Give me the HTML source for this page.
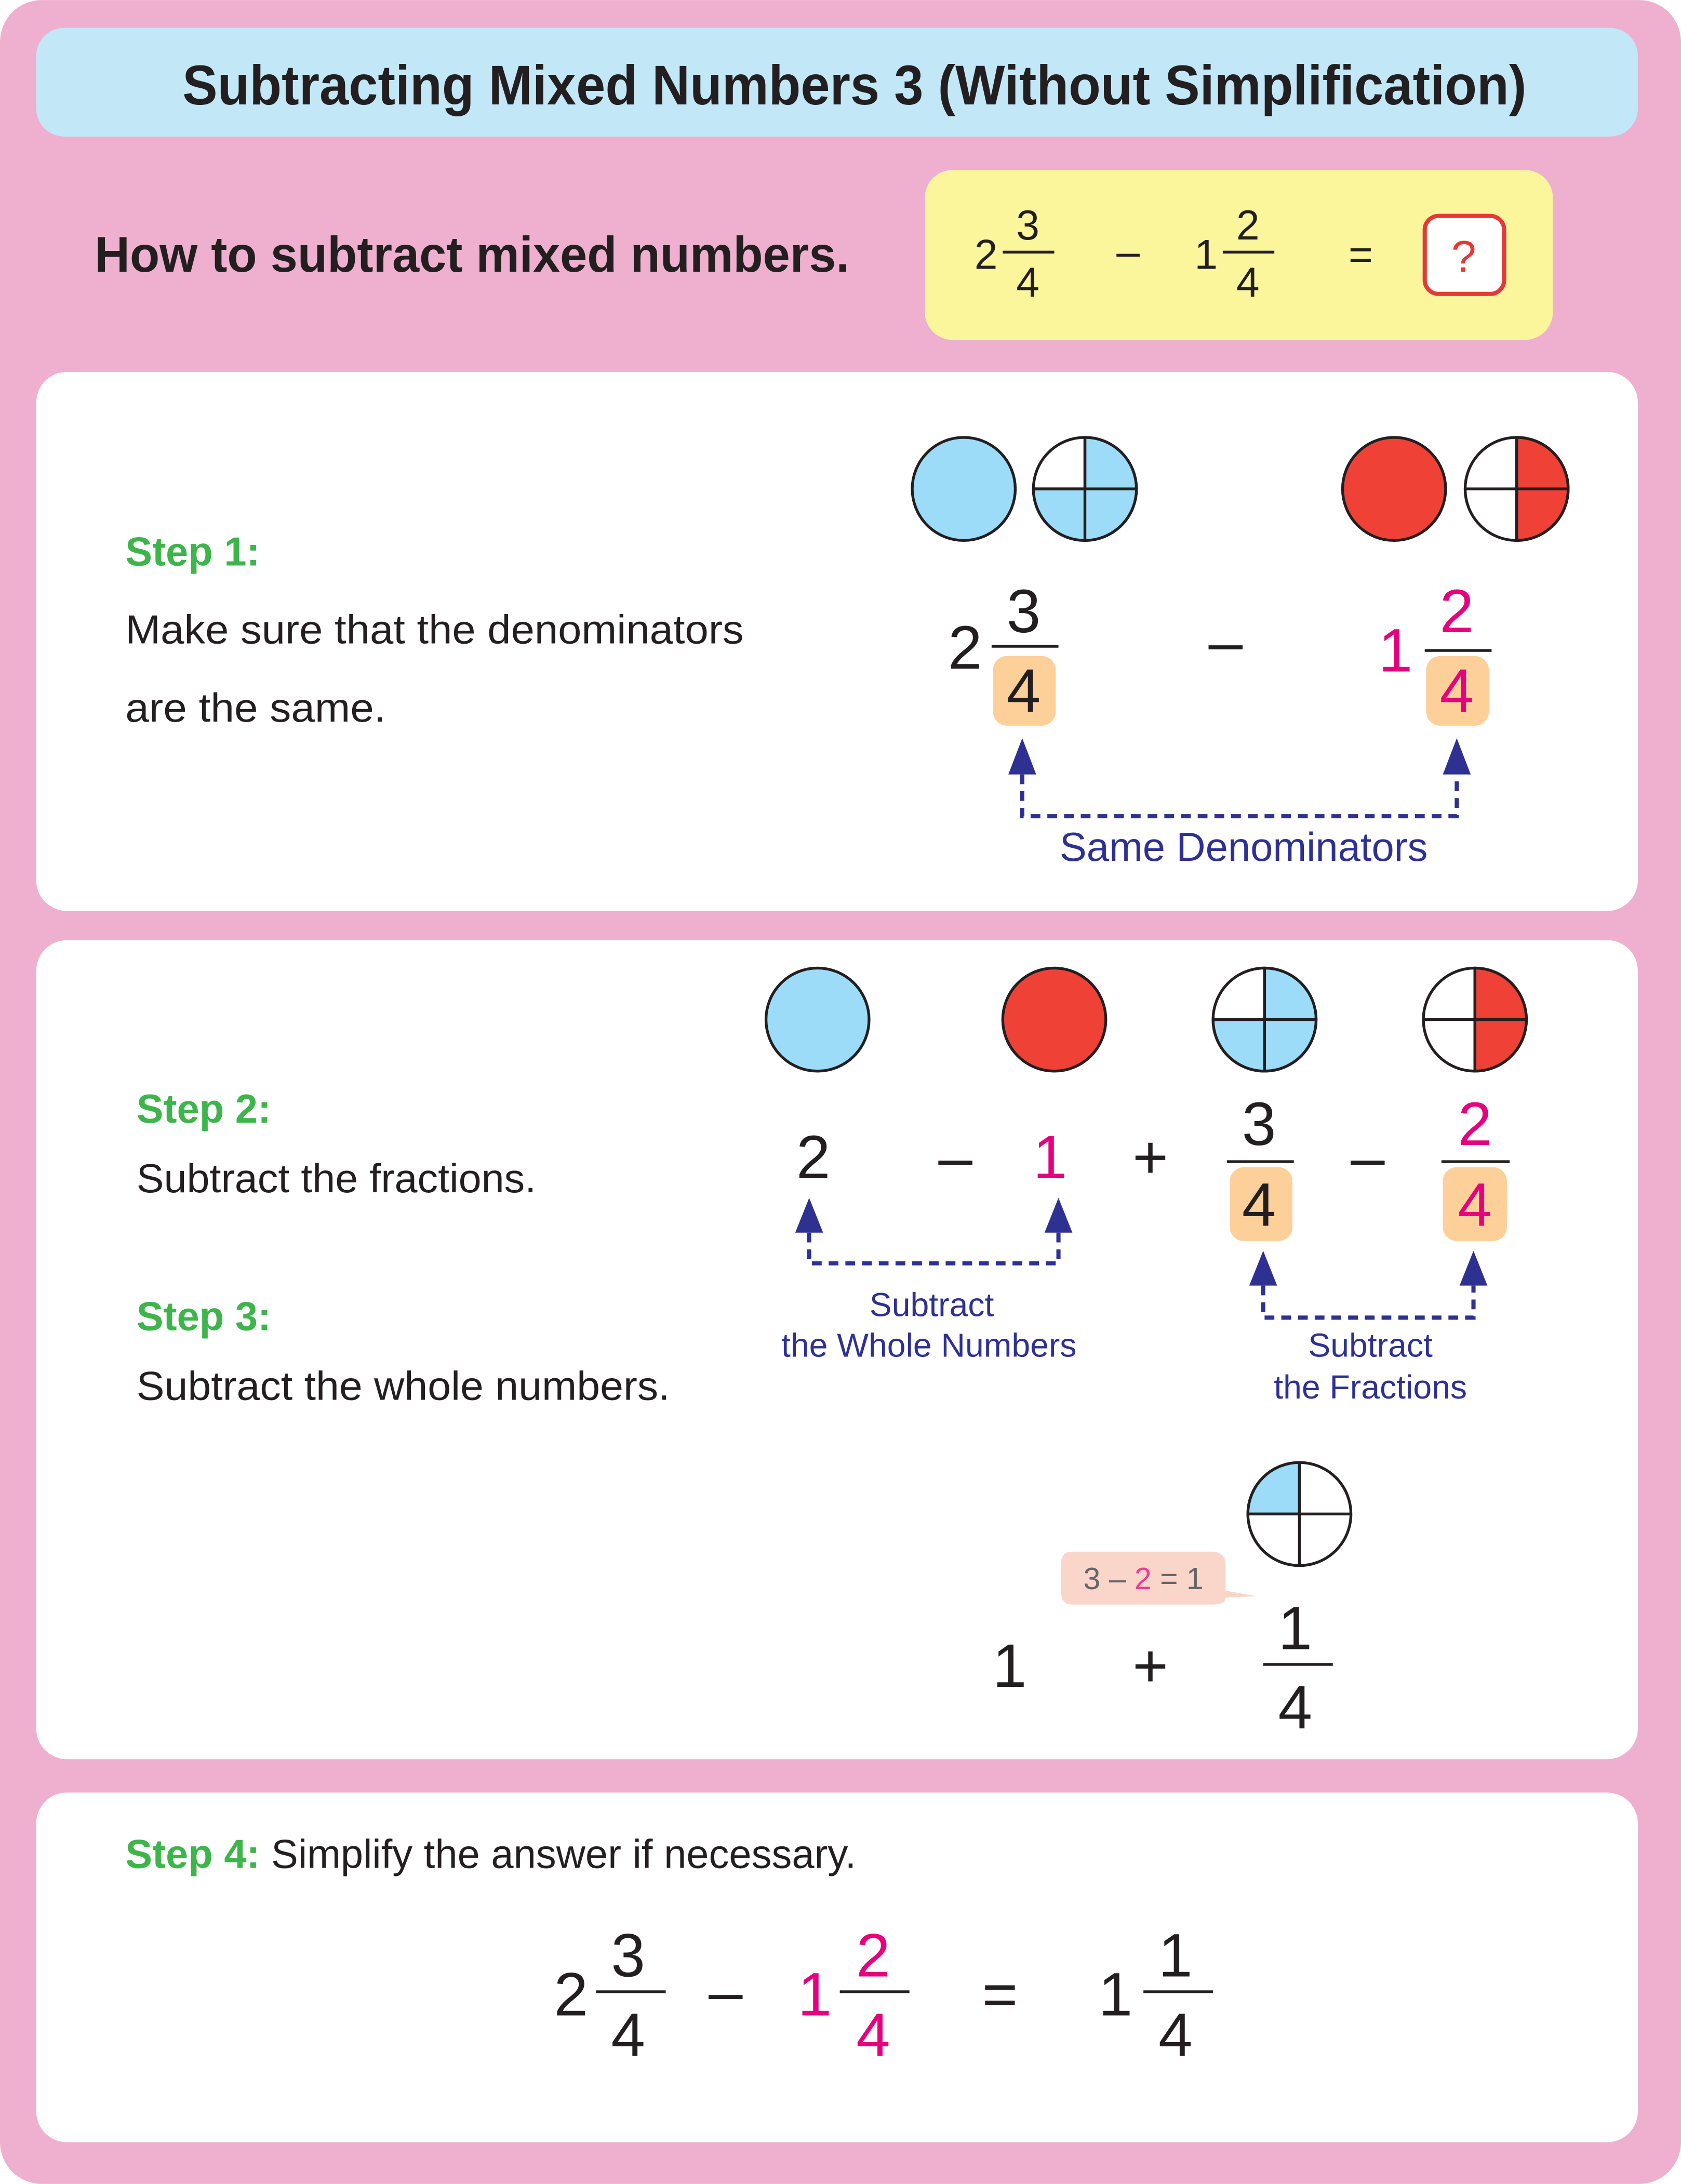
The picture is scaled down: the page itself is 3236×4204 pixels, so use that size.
<!DOCTYPE html>
<html><head><meta charset="utf-8"><style>
html,body{margin:0;padding:0;background:#fff}
svg{display:block}
text{font-family:"Liberation Sans","DejaVu Sans",sans-serif}
</style></head><body>
<svg width="3236" height="4204" viewBox="0 0 1207 1568" xmlns="http://www.w3.org/2000/svg">
<rect x="0" y="0" width="1207" height="1568" rx="30" fill="#efb0cf"/>
<!-- title -->
<rect x="26" y="20" width="1150" height="78" rx="20" fill="#c2e7f7"/>
<text x="131" y="75" font-size="40" font-weight="bold" textLength="965" lengthAdjust="spacingAndGlyphs" fill="#231f20">Subtracting Mixed Numbers 3 (Without Simplification)</text>
<text x="68" y="195" font-size="36" font-weight="bold" textLength="542" lengthAdjust="spacingAndGlyphs" fill="#231f20">How to subtract mixed numbers.</text>
<!-- yellow -->
<rect x="664" y="122" width="451" height="122" rx="20" fill="#fbf59c"/>
<g fill="#231f20" font-size="30" text-anchor="middle">
<text x="708" y="193">2</text>
<text x="738" y="172">3</text><rect x="720" y="180" width="37" height="2"/><text x="738" y="213">4</text>
<text x="810" y="191">–</text>
<text x="866" y="193">1</text>
<text x="896" y="172">2</text><rect x="878" y="180" width="37" height="2"/><text x="896" y="213">4</text>
<text x="977" y="193">=</text>
</g>
<rect x="1023" y="155" width="57" height="56" rx="10" fill="#fff" stroke="#e53935" stroke-width="3"/>
<text x="1051" y="195" font-size="32" text-anchor="middle" fill="#e53935">?</text>

<!-- panel 1 -->
<rect x="26" y="267" width="1150" height="387" rx="22" fill="#fff"/>
<text x="90" y="406" font-size="29" font-weight="bold" fill="#3db54a">Step  1:</text>
<text x="90" y="462" font-size="29" textLength="444" lengthAdjust="spacingAndGlyphs" fill="#231f20">Make sure that the denominators</text>
<text x="90" y="518" font-size="29" textLength="187" lengthAdjust="spacingAndGlyphs" fill="#231f20">are the same.</text>
<g stroke="#231f20" stroke-width="2">
<circle cx="692" cy="351" r="37" fill="#9cdcf8"/>
<circle cx="779" cy="351" r="37" fill="#fff"/>
<path d="M779 351 L779 314 A37 37 0 1 1 742 351 Z" fill="#9cdcf8"/>
<line x1="742" y1="351" x2="816" y2="351"/><line x1="779" y1="314" x2="779" y2="388"/>
<circle cx="1001" cy="351" r="37" fill="#ef4136"/>
<circle cx="1089" cy="351" r="37" fill="#fff"/>
<path d="M1089 314 A37 37 0 0 1 1089 388 Z" fill="#ef4136"/>
<line x1="1052" y1="351" x2="1126" y2="351"/><line x1="1089" y1="314" x2="1089" y2="388"/>
</g>
<rect x="713" y="471" width="45" height="50" rx="10" fill="#fdd09a"/>
<rect x="1024" y="471" width="45" height="50" rx="10" fill="#fdd09a"/>
<g font-size="44" text-anchor="middle">
<text x="693" y="480" fill="#231f20">2</text>
<text x="735" y="454" fill="#231f20">3</text><rect x="712" y="463" width="48" height="2" fill="#231f20"/><text x="735" y="511" fill="#231f20">4</text>
<text x="880" y="476" fill="#231f20">–</text>
<text x="1002" y="482" fill="#e6007e">1</text>
<text x="1046" y="454" fill="#e6007e">2</text><rect x="1023" y="466" width="48" height="2" fill="#231f20"/><text x="1046" y="511" fill="#e6007e">4</text>
</g>
<g fill="#2e3192">
<path d="M734 530 L724 556 L744 556 Z"/><path d="M1046 530 L1036 556 L1056 556 Z"/>
</g>
<path d="M734 556 V586 H1046 V556" fill="none" stroke="#2e3192" stroke-width="3" stroke-dasharray="7 5"/>
<text x="893" y="618" font-size="29" text-anchor="middle" fill="#2e3192">Same Denominators</text>

<!-- panel 2 -->
<rect x="26" y="675" width="1150" height="588" rx="22" fill="#fff"/>
<text x="98" y="806" font-size="29" font-weight="bold" fill="#3db54a">Step  2:</text>
<text x="98" y="856" font-size="29" textLength="287" lengthAdjust="spacingAndGlyphs" fill="#231f20">Subtract the fractions.</text>
<text x="98" y="955" font-size="29" font-weight="bold" fill="#3db54a">Step  3:</text>
<text x="98" y="1005" font-size="29" textLength="383" lengthAdjust="spacingAndGlyphs" fill="#231f20">Subtract the whole numbers.</text>
<g stroke="#231f20" stroke-width="2">
<circle cx="587" cy="732" r="37" fill="#9cdcf8"/>
<circle cx="757" cy="732" r="37" fill="#ef4136"/>
<circle cx="908" cy="732" r="37" fill="#fff"/>
<path d="M908 732 L908 695 A37 37 0 1 1 871 732 Z" fill="#9cdcf8"/>
<line x1="871" y1="732" x2="945" y2="732"/><line x1="908" y1="695" x2="908" y2="769"/>
<circle cx="1059" cy="732" r="37" fill="#fff"/>
<path d="M1059 695 A37 37 0 0 1 1059 769 Z" fill="#ef4136"/>
<line x1="1022" y1="732" x2="1096" y2="732"/><line x1="1059" y1="695" x2="1059" y2="769"/>
<circle cx="933" cy="1087" r="37" fill="#fff"/>
<path d="M933 1087 L896 1087 A37 37 0 0 1 933 1050 Z" fill="#9cdcf8"/>
<line x1="896" y1="1087" x2="970" y2="1087"/><line x1="933" y1="1050" x2="933" y2="1124"/>
</g>
<rect x="883" y="838" width="45" height="53" rx="10" fill="#fdd09a"/>
<rect x="1036" y="838" width="46" height="53" rx="10" fill="#fdd09a"/>
<g font-size="44" text-anchor="middle">
<text x="584" y="846" fill="#231f20">2</text>
<text x="686" y="846" fill="#231f20">–</text>
<text x="754" y="846" fill="#e6007e">1</text>
<text x="826" y="846" fill="#231f20">+</text>
<text x="904" y="822" fill="#231f20">3</text><rect x="881" y="833" width="48" height="2" fill="#231f20"/><text x="904" y="880" fill="#231f20">4</text>
<text x="982" y="846" fill="#231f20">–</text>
<text x="1059" y="822" fill="#e6007e">2</text><rect x="1035" y="833" width="49" height="2" fill="#231f20"/><text x="1059" y="880" fill="#e6007e">4</text>
</g>
<g fill="#2e3192">
<path d="M581 860 L571 885 L591 885 Z"/><path d="M760 860 L750 885 L770 885 Z"/>
<path d="M907 898 L897 923 L917 923 Z"/><path d="M1058 898 L1048 923 L1068 923 Z"/>
</g>
<path d="M581 885 V907 H760 V885" fill="none" stroke="#2e3192" stroke-width="3" stroke-dasharray="7 5"/>
<path d="M907 923 V946 H1058 V923" fill="none" stroke="#2e3192" stroke-width="3" stroke-dasharray="7 5"/>
<g font-size="24" text-anchor="middle" fill="#2e3192">
<text x="669" y="945">Subtract</text><text x="667" y="974">the Whole Numbers</text>
<text x="984" y="974">Subtract</text><text x="984" y="1004">the Fractions</text>
</g>
<path d="M770 1114 H870 Q880 1114 880 1124 V1142 L902 1146 L880 1147 Q880 1152 870 1152 H770 Q762 1152 762 1144 V1122 Q762 1114 770 1114 Z" fill="#f9d5ca"/>
<text x="821" y="1141" font-size="22" text-anchor="middle" fill="#666" xml:space="preserve">3 – <tspan fill="#ed3a96">2</tspan> = 1</text>
<g font-size="44" text-anchor="middle" fill="#231f20">
<text x="725" y="1211">1</text>
<text x="826" y="1211">+</text>
<text x="930" y="1184">1</text><rect x="907" y="1194" width="50" height="2"/><text x="930" y="1241">4</text>
</g>

<!-- panel 3 -->
<rect x="26" y="1287" width="1150" height="251" rx="22" fill="#fff"/>
<text x="90" y="1341" font-size="29" fill="#3db54a"><tspan font-weight="bold">Step  4:</tspan> <tspan fill="#231f20">Simplify the answer if necessary.</tspan></text>
<g font-size="44" text-anchor="middle">
<text x="410" y="1447" fill="#231f20">2</text>
<text x="451" y="1419" fill="#231f20">3</text><rect x="428" y="1429" width="50" height="2" fill="#231f20"/><text x="451" y="1476" fill="#231f20">4</text>
<text x="521" y="1445" fill="#231f20">–</text>
<text x="585" y="1447" fill="#e6007e">1</text>
<text x="627" y="1419" fill="#e6007e">2</text><rect x="603" y="1429" width="50" height="2" fill="#231f20"/><text x="627" y="1476" fill="#e6007e">4</text>
<text x="718" y="1447" fill="#231f20">=</text>
<text x="801" y="1447" fill="#231f20">1</text>
<text x="844" y="1419" fill="#231f20">1</text><rect x="821" y="1429" width="50" height="2" fill="#231f20"/><text x="844" y="1476" fill="#231f20">4</text>
</g>
</svg>
</body></html>
